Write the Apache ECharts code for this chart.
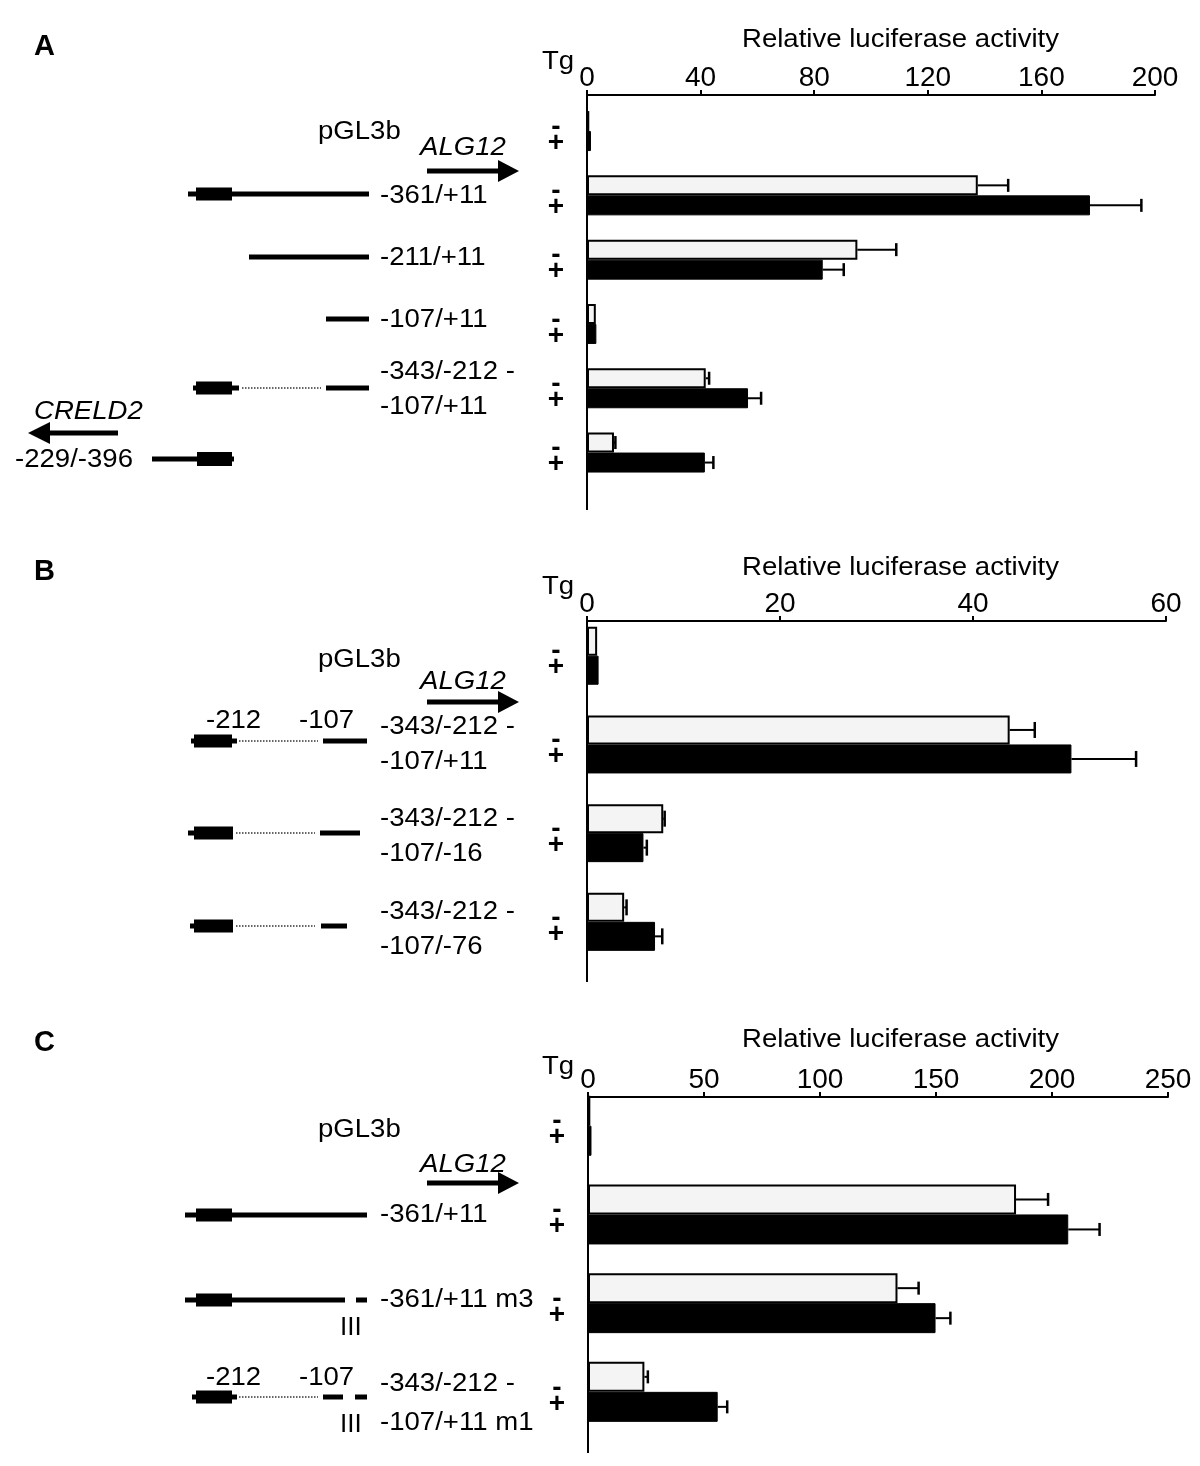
<!DOCTYPE html>
<html>
<head>
<meta charset="utf-8">
<script src="https://cdn.jsdelivr.net/npm/echarts@6/dist/echarts.min.js"></script>
<style>
  html, body { margin: 0; padding: 0; background: #fff; }
  #chart { width: 1200px; height: 1466px; }
</style>
</head>
<body>
<div id="chart"></div>
<script>
// ---- data ----
// panel A
const catsA = ['pGL3b', '-361/+11', '-211/+11', '-107/+11', '-343/-212 -\n-107/+11', '-229/-396'];
const noTgA = [0.8, 137.6, 95.2, 3.1, 41.8, 9.5];
const noTgErrA = [0, 10.7, 13.7, 0, 1.2, 0.5];
const tgA = [1.4, 177.1, 83.0, 3.3, 56.7, 41.5];
const tgErrA = [0, 18.1, 7.4, 0, 4.6, 3.0];
const ticksA = [0, 40, 80, 120, 160, 200];

// panel B
const catsB = ['pGL3b', '-343/-212 -\n-107/+11', '-343/-212 -\n-107/-16', '-343/-212 -\n-107/-76'];
const noTgB = [1.05, 43.8, 7.9, 3.85];
const noTgErrB = [0, 2.6, 0.15, 0.25];
const tgB = [1.2, 50.2, 5.85, 7.05];
const tgErrB = [0, 6.7, 0.35, 0.75];
const ticksB = [0, 20, 40, 60];

// panel C
const catsC = ['pGL3b', '-361/+11', '-361/+11 m3', '-343/-212 -\n-107/+11 m1'];
const noTgC = [1.0, 184.5, 133.4, 24.3];
const noTgErrC = [0, 13.8, 9.1, 1.5];
const tgC = [1.5, 207, 149.8, 55.9];
const tgErrC = [0, 13.5, 6.4, 4.1];
const ticksC = [0, 50, 100, 150, 200, 250];

const axisTitle = 'Relative luciferase activity';

// ---- layout ----
const panels = [
  { cats: catsA, w: noTgA, we: noTgErrA, b: tgA, be: tgErrA, ticks: ticksA,
    left: 587, right: 1155, top: 98.9, height: 385.8, axisY: 95, bottom: 510, barW: 20, capH: 13,
    letter: 'A', letterY: 47, titleY: 40, tgY: 62 },
  { cats: catsB, w: noTgB, we: noTgErrB, b: tgB, be: tgErrB, ticks: ticksB,
    left: 587, right: 1166, top: 611.4, height: 354.8, axisY: 621, bottom: 982, barW: 29, capH: 16,
    letter: 'B', letterY: 572, titleY: 568, tgY: 587 },
  { cats: catsC, w: noTgC, we: noTgErrC, b: tgC, be: tgErrC, ticks: ticksC,
    left: 588, right: 1168, top: 1081.4, height: 354.8, axisY: 1097, bottom: 1453, barW: 30, capH: 13,
    letter: 'C', letterY: 1043, titleY: 1040, tgY: 1067 }
];

const FONT = '"Liberation Sans", Arial, sans-serif';

const grids = [], xAxes = [], yAxes = [], series = [];

function errSeries(idx, vals, errs, side, p) {
  return {
    type: 'custom', xAxisIndex: idx, yAxisIndex: idx, z: 3, silent: true,
    data: vals.map((v, i) => [i, v, errs[i]]),
    encode: { x: 1, y: 0 },
    renderItem: function (params, api) {
      const e = api.value(2);
      if (!e) return null;
      const a = api.coord([api.value(1), api.value(0)]);
      const b = api.coord([api.value(1) + e, api.value(0)]);
      const y = a[1] + side * p.barW / 2;
      return {
        type: 'group',
        children: [
          { type: 'line', shape: { x1: a[0], y1: y, x2: b[0], y2: y }, style: { stroke: '#000', lineWidth: 2 } },
          { type: 'line', shape: { x1: b[0], y1: y - p.capH / 2, x2: b[0], y2: y + p.capH / 2 }, style: { stroke: '#000', lineWidth: 2.5 } }
        ]
      };
    }
  };
}

panels.forEach((p, i) => {
  const t = p.ticks;
  grids.push({ left: p.left, width: p.right - p.left, top: p.top, height: p.height });
  xAxes.push({
    type: 'value', gridIndex: i, position: 'top',
    min: t[0], max: t[t.length - 1], interval: t[1] - t[0],
    offset: p.top - p.axisY,
    axisLine: { show: true, lineStyle: { color: '#000', width: 2 } },
    axisTick: { show: true, length: 5, lineStyle: { color: '#000', width: 2 } },
    splitLine: { show: false },
    axisLabel: { color: '#000', fontSize: 28, fontFamily: FONT, margin: 3 }
  });
  yAxes.push({
    type: 'category', gridIndex: i, inverse: true, data: p.cats,
    axisLine: { show: false }, axisTick: { show: false },
    axisLabel: {
      margin: 31, align: 'center', padding: [8, 0, 0, 0],
      formatter: () => '{m|-}\n{p|+}',
      rich: {
        m: { fontSize: 28, fontWeight: 'bold', fontFamily: FONT, color: '#000', lineHeight: 16 },
        p: { fontSize: 28, fontWeight: 'bold', fontFamily: FONT, color: '#000', lineHeight: 16 }
      }
    }
  });
  series.push({
    type: 'bar', xAxisIndex: i, yAxisIndex: i, data: p.w, barWidth: p.barW, barGap: '0%',
    itemStyle: { color: '#f4f4f4', borderColor: '#000', borderWidth: 2 }, silent: true
  });
  series.push({
    type: 'bar', xAxisIndex: i, yAxisIndex: i, data: p.b, barWidth: p.barW, barGap: '0%',
    itemStyle: { color: '#000', borderColor: '#000', borderWidth: 1 }, silent: true
  });
  series.push(errSeries(i, p.w, p.we, -1, p));
  series.push(errSeries(i, p.b, p.be, 1, p));
});

// ---- construct drawings on the left (decoration) ----
const g = [];
function txt(x, y, s, o) {
  o = o || {};
  g.push({
    type: 'text', x: x, y: y, scaleX: o.sx || 1.06,
    style: {
      text: s, x: 0, y: 0, fill: '#000',
      fontSize: o.size || 26, fontFamily: FONT,
      fontStyle: o.italic ? 'italic' : 'normal', fontWeight: o.bold ? 'bold' : 'normal',
      align: o.align || 'left', verticalAlign: 'middle'
    }
  });
}
function seg(x1, x2, y, w) {
  g.push({ type: 'line', shape: { x1: x1, y1: y, x2: x2, y2: y }, style: { stroke: '#000', lineWidth: w || 5 } });
}
function box(x1, x2, y, h) {
  g.push({ type: 'rect', shape: { x: x1, y: y - (h || 13) / 2, width: x2 - x1, height: h || 13 }, style: { fill: '#000' } });
}
function dots(x1, x2, y) {
  g.push({ type: 'line', shape: { x1: x1, y1: y, x2: x2, y2: y }, style: { stroke: '#333', lineWidth: 1.5, lineDash: [1.5, 1.5] } });
}
function arrowRight(x1, x2, y) {
  seg(x1, x2 - 21, y, 5);
  g.push({ type: 'polygon', shape: { points: [[x2, y], [x2 - 21, y - 11], [x2 - 21, y + 11]] }, style: { fill: '#000' } });
}
function arrowLeft(x1, x2, y) {
  seg(x1 + 22, x2, y, 5);
  g.push({ type: 'polygon', shape: { points: [[x1, y], [x1 + 22, y - 11], [x1 + 22, y + 11]] }, style: { fill: '#000' } });
}
function twoLine(x, y1, y2, s) {
  const parts = s.split('\n');
  txt(x, y1, parts[0]);
  txt(x, y2, parts[1]);
}

panels.forEach(p => {
  txt(34, p.letterY, p.letter, { bold: true, size: 29, sx: 1 });
  txt(742, p.titleY, axisTitle);
  txt(542, p.tgY, 'Tg');
  g.push({ type: 'line', shape: { x1: p.left, y1: p.axisY, x2: p.left, y2: p.bottom }, style: { stroke: '#000', lineWidth: 2 } });
});

// panel A
txt(318, 132, catsA[0]);
txt(420, 148, 'ALG12', { italic: true });
arrowRight(427, 519, 171);
seg(188, 369, 194); box(196, 232, 194);
txt(380, 196, catsA[1]);
seg(249, 369, 257);
txt(380, 258, catsA[2]);
seg(326, 369, 319);
txt(380, 320, catsA[3]);
seg(193, 239, 388); box(196, 232, 388); dots(242, 321, 388); seg(326, 369, 388);
twoLine(380, 372, 407, catsA[4]);
txt(34, 412, 'CRELD2', { italic: true });
arrowLeft(28, 118, 433);
txt(15, 460, catsA[5]);
seg(152, 234, 459); box(197, 232, 459, 14);

// panel B
txt(318, 660, catsB[0]);
txt(420, 682, 'ALG12', { italic: true });
arrowRight(427, 519, 702);
txt(206, 721, '-212');
txt(299, 721, '-107');
seg(191, 237, 741); box(194, 232, 741); dots(239, 318, 741); seg(323, 367, 741);
twoLine(380, 727, 762, catsB[1]);
seg(188, 233, 833); box(194, 233, 833); dots(236, 315, 833); seg(320, 360, 833);
twoLine(380, 819, 854, catsB[2]);
seg(190, 233, 926); box(194, 233, 926); dots(236, 315, 926); seg(321, 347, 926);
twoLine(380, 912, 947, catsB[3]);

// panel C
txt(318, 1130, catsC[0]);
txt(420, 1165, 'ALG12', { italic: true });
arrowRight(427, 519, 1183);
seg(185, 367, 1215); box(196, 232, 1215);
txt(380, 1215, catsC[1]);
seg(185, 345, 1300); box(196, 232, 1300); seg(356, 367, 1300);
txt(380, 1300, catsC[2]);
txt(340, 1328, 'III', { sx: 1 });
txt(206, 1378, '-212');
txt(299, 1378, '-107');
seg(192, 237, 1397); box(196, 232, 1397); dots(239, 318, 1397); seg(323, 343, 1397); seg(355, 367, 1397);
twoLine(380, 1384, 1423, catsC[3]);
txt(340, 1425, 'III', { sx: 1 });

const chart = echarts.init(document.getElementById('chart'));
chart.setOption({
  animation: false,
  backgroundColor: '#fff',
  grid: grids,
  xAxis: xAxes,
  yAxis: yAxes,
  series: series,
  graphic: g
});
</script>
</body>
</html>
